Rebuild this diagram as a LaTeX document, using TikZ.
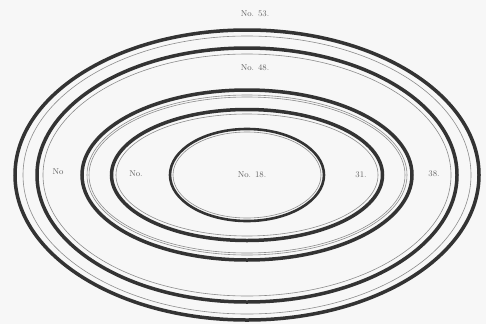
\documentclass[tikz,border=0pt]{standalone}
\begin{document}
\begin{tikzpicture}[x=1pt,y=-1pt,
  thickring/.style={draw=black!80,line width=3.5pt},
  innerring/.style={draw=black!80,line width=2.6pt},
  thinring/.style={draw=black!45,line width=0.6pt},
  lbl/.style={font=\fontsize{8.5}{9}\selectfont,text=black!62,inner sep=0pt}]
\fill[black!3] (0,0) rectangle (486,324);
\useasboundingbox (0,0) rectangle (486,324);
\coordinate (c) at (247,175);
% ring 1
\draw[thickring] (c) ellipse [x radius=232,y radius=145];
\draw[thinring] (c) ellipse [x radius=224,y radius=139];
% ring 2
\draw[thickring] (c) ellipse [x radius=210,y radius=127];
\draw[thinring] (c) ellipse [x radius=204,y radius=121];
% ring 3
\draw[thickring] (c) ellipse [x radius=165,y radius=85];
\draw[thinring] (c) ellipse [x radius=160,y radius=80];
\draw[thinring] (c) ellipse [x radius=158,y radius=78];
% ring 4
\draw[thickring] (c) ellipse [x radius=135.5,y radius=65.5];
\draw[thinring] (c) ellipse [x radius=131,y radius=61];
% ring 5
\draw[innerring] (c) ellipse [x radius=77,y radius=46];
\draw[thinring] (c) ellipse [x radius=74,y radius=43];
% labels
\node[lbl] (l53) at (255,14) {No. 53.};
\node[lbl] (l48) at (255,68) {No. 48.};
\node[lbl] (lno1) at (58,172) {No};
\node[lbl] (lno2) at (136,174) {No.};
\node[lbl] (l18) at (252,175) {No. 18.};
\node[lbl] (l31) at (361,175) {31.};
\node[lbl] (l38) at (434,174) {38.};
\end{tikzpicture}
\end{document}
